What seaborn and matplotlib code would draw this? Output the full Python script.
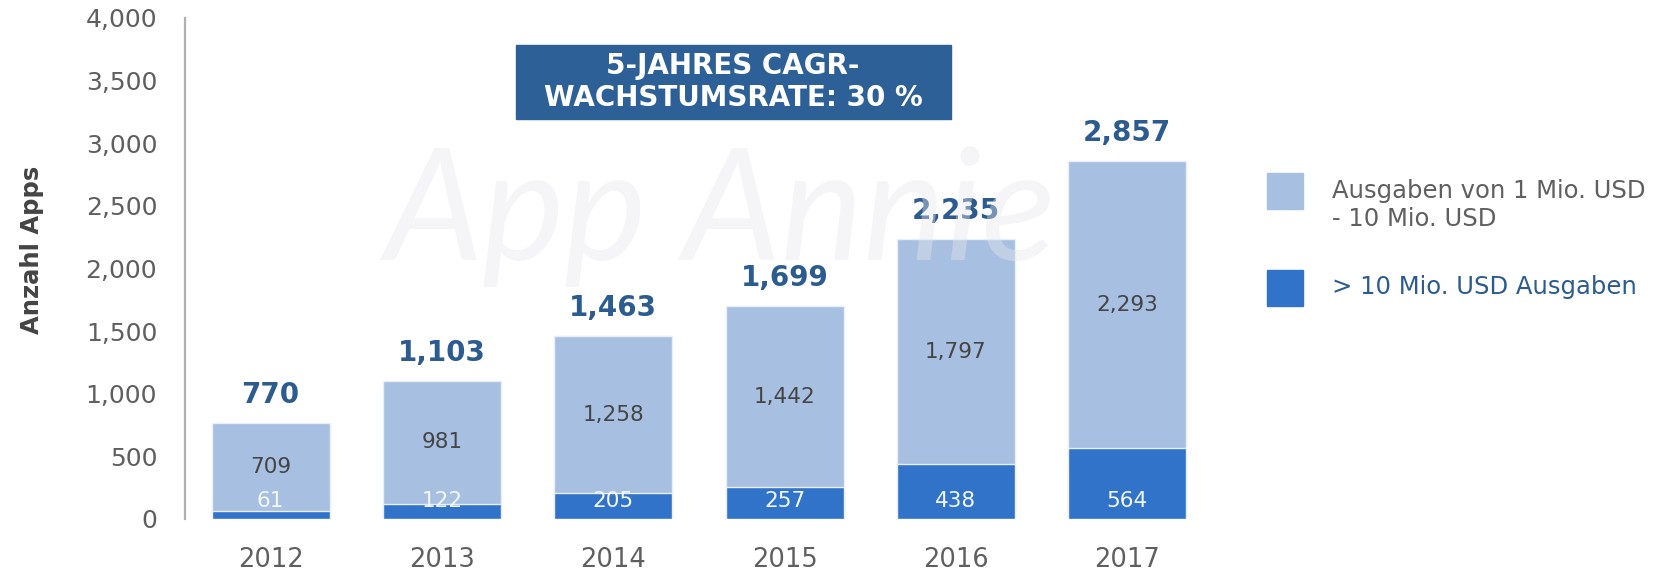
import matplotlib
matplotlib.use("Agg")
import matplotlib.pyplot as plt
from matplotlib.patches import Rectangle
import seaborn as sns
import pandas as pd

years = ["2012", "2013", "2014", "2015", "2016", "2017"]
above_10m = [61, 122, 205, 257, 438, 564]
between_1_10m = [709, 981, 1258, 1442, 1797, 2293]
totals = [a + b for a, b in zip(above_10m, between_1_10m)]
legend_labels = ["Ausgaben von 1 Mio. USD\n- 10 Mio. USD", "> 10 Mio. USD Ausgaben"]
y_ticks = [0, 500, 1000, 1500, 2000, 2500, 3000, 3500, 4000]

LIGHT = "#a7bfe0"
DARK = "#3173c8"
NAVY = "#2c5b8f"
GRAY = "#5f5f5f"

sns.set_theme(style="white")
plt.rcParams["font.family"] = ["DejaVu Sans"]

df = pd.DataFrame({"year": years, "total": totals, "top": above_10m})

W, H = 1679, 575
fig = plt.figure(figsize=(16.79, 5.75), dpi=100)
ax = fig.add_axes([185 / W, 1 - 519 / H, 1028 / W, 501 / H])

sns.barplot(data=df, x="year", y="total", color=LIGHT, saturation=1, width=0.69,
            edgecolor="#e9eef7", linewidth=1, ax=ax, zorder=2)
sns.barplot(data=df, x="year", y="top", color=DARK, saturation=1, width=0.69,
            edgecolor="#e9eef7", linewidth=1, ax=ax, zorder=3)

ax.set_xlim(-0.5, 5.5)
ax.set_ylim(0, 4000)
ax.set_yticks(y_ticks)
ax.set_yticklabels([f"{v:,}" for v in y_ticks], fontsize=18, color=GRAY)
ax.tick_params(axis="y", length=0, pad=20)
ax.tick_params(axis="x", length=0, pad=20, labelsize=18.5, labelcolor=GRAY)
ax.set_xlabel("")
ax.set_ylabel("Anzahl Apps", fontsize=17.5, color="#444444", fontweight="bold", labelpad=30, y=0.537)
for s in ["top", "right", "bottom"]:
    ax.spines[s].set_visible(False)
ax.spines["left"].set_color("#b0b0b0")
ax.spines["left"].set_linewidth(1.6)

for i, (a, b, t) in enumerate(zip(above_10m, between_1_10m, totals)):
    ax.text(i, a + b / 2, f"{b:,}", ha="center", va="center", fontsize=15.5, color="#444444", zorder=5)
    ax.text(i, 145, f"{a:,}", ha="center", va="center", fontsize=15.5, color="#f4f7fc", zorder=5)
    ax.annotate(f"{t:,}", (i, t), xytext=(0, 20), textcoords="offset points",
                ha="center", va="center", fontsize=20, fontweight="bold", color=NAVY, zorder=5)

# watermark
ax.text(2.62, 2420, "App Annie", ha="center", va="center", fontsize=112, style="italic",
        color="#e6e8ec", alpha=0.4, zorder=6, family=["Lato", "DejaVu Sans"])

# CAGR box
fig.patches.append(Rectangle((516 / W, 1 - 119 / H), 435 / W, 74 / H, transform=fig.transFigure,
                             facecolor="#2d6096", edgecolor="#2d6096", zorder=7))
fig.text(733 / W, 1 - 82 / H, "5-JAHRES CAGR-\nWACHSTUMSRATE: 30 %", ha="center", va="center",
         fontsize=20, color="white", fontweight="bold", linespacing=1.2, zorder=8)

# legend (manually placed)
legend_colors = [LIGHT, DARK]
legend_text_colors = [GRAY, NAVY]
patch_tops = [173, 270]
text_centers = [205, 287]
for col, tcol, top, tc, lab in zip(legend_colors, legend_text_colors, patch_tops, text_centers, legend_labels):
    fig.patches.append(Rectangle((1267 / W, 1 - (top + 36) / H), 36 / W, 36 / H,
                                 transform=fig.transFigure, facecolor=col, edgecolor=col))
    fig.text(1332 / W, 1 - tc / H, lab, ha="left", va="center", fontsize=17.5,
             color=tcol, linespacing=1.25)

fig.savefig("out.png", dpi=100)
